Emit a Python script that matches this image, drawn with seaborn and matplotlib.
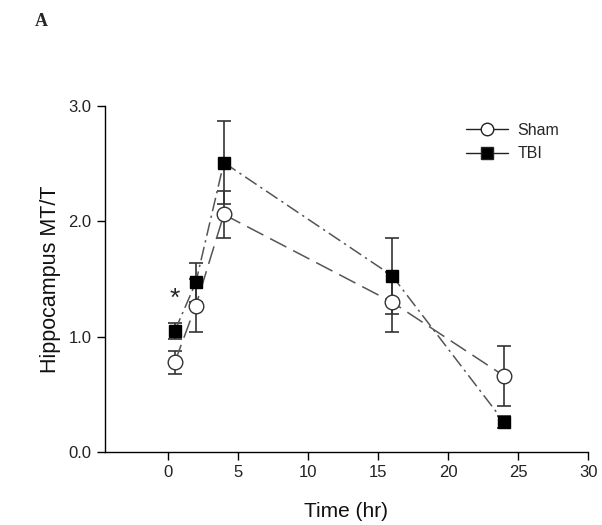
import seaborn as sns
import matplotlib.pyplot as plt
import pandas as pd

sns.set_theme(style="ticks")
plt.rcParams['font.family'] = ['Liberation Sans', 'DejaVu Sans']

time_hr = [0.5, 2, 4, 16, 24]
sham = [0.78, 1.27, 2.06, 1.30, 0.66]
sham_err = [0.10, 0.23, 0.20, 0.26, 0.26]
tbi = [1.05, 1.47, 2.51, 1.53, 0.26]
tbi_err = [0.07, 0.17, 0.36, 0.33, 0.05]

df = pd.DataFrame({
    "time": time_hr * 2,
    "value": sham + tbi,
    "group": ["Sham"] * 5 + ["TBI"] * 5,
})

fig = plt.figure(figsize=(6.02, 5.25), dpi=100)
ax = fig.add_axes([0.174, 0.139, 0.803, 0.659])

# error bars first so markers sit on top
ax.errorbar(time_hr, sham, yerr=sham_err, fmt="none", ecolor="#333333",
            elinewidth=1.2, capsize=5, capthick=1.2, zorder=2)
ax.errorbar(time_hr, tbi, yerr=tbi_err, fmt="none", ecolor="#333333",
            elinewidth=1.2, capsize=5, capthick=1.2, zorder=2)

sns.lineplot(data=df[df.group == "Sham"], x="time", y="value", ax=ax,
             color="#555555", lw=1.1, zorder=3, legend=False)
sns.lineplot(data=df[df.group == "TBI"], x="time", y="value", ax=ax,
             color="#555555", lw=1.1, zorder=3, legend=False)
ax.lines[-2].set_dashes([12, 5])
ax.lines[-1].set_dashes([9, 3, 1.5, 3])

ax.plot(time_hr, sham, "o", ms=10.5, mfc="white", mec="#333333", mew=1.0,
        zorder=4)
ax.plot(time_hr, tbi, "s", ms=9, mfc="black", mec="black", zorder=5)

# legend handles
ax.plot([], [], "-o", color="#222222", mfc="white", ms=9, lw=1, label="Sham")
ax.plot([], [], "-s", color="#222222", mfc="black", ms=8, lw=1, label="TBI")
ax.legend(loc="upper right", bbox_to_anchor=(0.96, 0.98), frameon=False,
          fontsize=11.5, handlelength=2.6, handletextpad=0.6,
          borderaxespad=0.2, labelspacing=0.55)

ax.text(0.5, 1.33, "*", ha="center", va="center", fontsize=19)

ax.set_xlim(-4.5, 30)
ax.set_ylim(0, 3.0)
ax.set_xticks([0, 5, 10, 15, 20, 25, 30])
ax.set_yticks([0.0, 1.0, 2.0, 3.0])
ax.set_yticklabels(["0.0", "1.0", "2.0", "3.0"])
ax.tick_params(labelsize=12, direction="out", length=6, width=1,
               colors="black", labelcolor="#222222")
ax.set_xlabel("Time (hr)", fontsize=15, labelpad=16, color="#111111")
ax.set_ylabel("Hippocampus MT/T", fontsize=15.5, labelpad=5, color="#111111")
sns.despine(ax=ax)
for s in ["left", "bottom"]:
    ax.spines[s].set_color("black")
    ax.spines[s].set_linewidth(1)

fig.text(0.058, 0.975, "A", fontsize=13, fontweight="bold",
         family=["Liberation Serif", "DejaVu Serif"], va="top")

fig.savefig("out.png", dpi=100)
